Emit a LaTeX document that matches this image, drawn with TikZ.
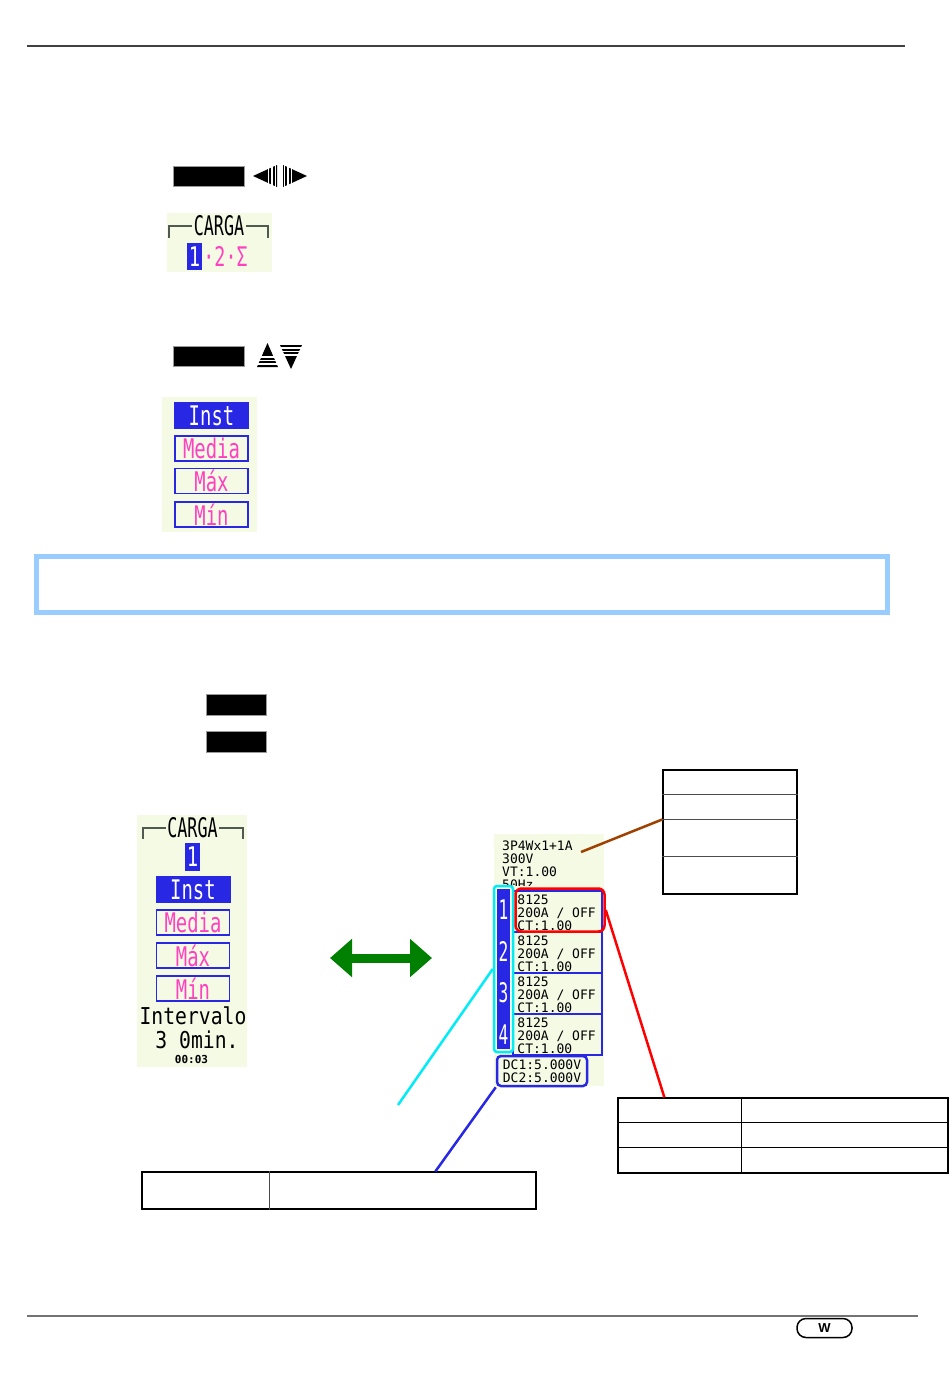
\documentclass[tikz,border=0pt]{standalone}
\usepackage{fontspec}
\usepackage{tikz}
\usetikzlibrary{positioning,arrows.meta,calc}
\setsansfont{Liberation Sans}
\newfontfamily\lcd{DejaVu Sans Mono}
\definecolor{lcdbg}{RGB}{244,250,228}
\definecolor{lcdblu}{RGB}{40,40,228}
\definecolor{lcdmag}{RGB}{255,64,192}
\definecolor{ban}{RGB}{153,204,255}
\definecolor{brn}{RGB}{160,64,0}
\definecolor{grn}{RGB}{0,128,0}
\definecolor{cyn}{RGB}{0,236,246}
\definecolor{brkc}{RGB}{80,90,80}
\newcommand{\lcdbig}[2][0.7]{\scalebox{#1}[1]{\lcd\fontsize{27}{27}\selectfont #2}}

\begin{document}
\begin{tikzpicture}[x=1pt,y=-1pt,
  kbd/.style={fill=black,draw=gray!80,line width=1pt,minimum width=71pt,minimum height=20pt,inner sep=0pt},
  pnl/.style={fill=lcdbg,inner sep=0pt},
  selon/.style={fill=lcdblu,text=white,minimum width=75pt,minimum height=27pt,inner sep=0pt},
  seloff/.style={draw=lcdblu,line width=1.6pt,fill=lcdbg,text=lcdmag,minimum width=73pt,minimum height=25pt,inner sep=0pt},
  brk/.style={draw=brkc,line width=2pt},
  sm/.style={font=\lcd\fontsize{13}{13}\selectfont,inner sep=0pt,anchor=north west,align=left},
  ch/.style={draw=lcdblu,line width=1.5pt,fill=lcdbg,minimum width=89pt,minimum height=41pt,inner sep=0pt},
  tbl/.style={draw,line width=1.2pt,inner sep=0pt},
  con/.style={line width=2.5pt}]
\useasboundingbox (0,0) rectangle (950,1377);
% page rules
\draw[black!75,line width=1.2pt] (27,46) -- (905,46);
\draw[black!55,line width=1.2pt] (27,1316) -- (918,1316);
\node[draw,line width=1.5pt,rounded corners=9pt,minimum width=55pt,minimum height=19pt,inner sep=0pt,font=\sffamily\bfseries\fontsize{13}{13}\selectfont] (pg) at (824.5,1328) {W};

% keys and arrow icons
\node[kbd] (k1) at (208.5,176) {};
\fill (253,176) -- (277,165) -- (277,187) -- cycle;
\fill (283,165) -- (283,187) -- (307,176) -- cycle;
\foreach \i in {268.5,272,275.5,284.5,288,291.5} \draw[white,line width=1.1pt] (\i,162) -- (\i,190);
\node[kbd] (k2) at (208.5,356) {};
\fill (267.5,343) -- (278,367) -- (257,367) -- cycle;
\fill (280,345) -- (302,345) -- (291,369) -- cycle;
\foreach \i in {357,360.5,364} \draw[white,line width=1.1pt] (254,\i) -- (280.5,\i);
\foreach \i in {348,351.5,355} \draw[white,line width=1.1pt] (279,\i) -- (304,\i);

% load selector
\node[pnl,minimum width=105pt,minimum height=59pt] (pA) at (219.5,242.5) {};
\node[inner sep=1.5pt] (cgA) at (219,226) {\lcdbig[0.62]{CARGA}};
\draw[brk] (cgA.west) -| (169,238);
\draw[brk] (cgA.east) -| (268,238);
\node[selon,minimum width=15pt,minimum height=27pt] (n1) at (194.5,256.5) {\lcdbig{1}};
\node[text=lcdmag,inner sep=0pt,right=1pt of n1] (n2) {\lcdbig[0.68]{·2·Σ}};

% value menu
\node[pnl,minimum width=95pt,minimum height=135pt] (pB) at (209.5,464.5) {};
\node[selon] (mi) at (211.5,415.5) {\lcdbig{Inst}};
\node[seloff] (mm) at (211.5,448.5) {\lcdbig{Media}};
\node[seloff] (mx) at (211.5,481) {\lcdbig{Máx}};
\node[seloff] (mn) at (211.5,514.5) {\lcdbig{Mín}};

% note banner
\node[draw=ban,line width=5pt,minimum width=851pt,minimum height=56pt,inner sep=0pt] (bnr) at (462,584.5) {};

\node[kbd,minimum width=60pt,minimum height=21pt] (k3) at (236.5,705) {};
\node[kbd,minimum width=60pt,minimum height=21pt] (k4) at (236.5,741.5) {};

% left screen
\node[pnl,minimum width=110pt,minimum height=252pt] (pC) at (192,941) {};
\node[inner sep=1.5pt] (cgB) at (192.5,828) {\lcdbig[0.62]{CARGA}};
\draw[brk] (cgB.west) -| (143,839);
\draw[brk] (cgB.east) -| (243,839);
\node[selon,minimum width=15pt,minimum height=28pt] (l1) at (192.5,857) {\lcdbig{1}};
\node[selon] (li) at (193,889.5) {\lcdbig{Inst}};
\node[seloff] (lm) at (193,922.5) {\lcdbig{Media}};
\node[seloff] (lx) at (193,955.5) {\lcdbig{Máx}};
\node[seloff] (ln) at (193,988.5) {\lcdbig{Mín}};
\node[inner sep=0pt] (iv) at (193,1015.5) {\scalebox{0.73}[0.86]{\lcd\fontsize{27}{27}\selectfont Intervalo}};
\node[inner sep=0pt] (im) at (197,1040) {\scalebox{0.73}[0.86]{\lcd\fontsize{27}{27}\selectfont 3 0min.}};
\node[inner sep=0pt,font=\lcd\bfseries\fontsize{11}{11}\selectfont] (tm) at (191.5,1059) {00:03};

\coordinate (gl) at (330,958);
\coordinate (gr) at (432,958);
\draw[grn,line width=9pt,{Triangle[length=22pt,width=37pt]}-{Triangle[length=22pt,width=37pt]}] (gl) -- (gr);

% right screen
\node[pnl,minimum width=110pt,minimum height=252pt] (pD) at (549,960) {};
\begin{scope}
  \clip (494,834) rectangle (604,885.5);
  \node[sm] (hd) at (502,840.5) {3P4Wx1+1A\\300V\\VT:1.00\\50Hz};
\end{scope}
\foreach \i in {1,...,4} {
  \node[ch] (c\i) at (557.5,{911.5+41*(\i-1)}) {};
  \node[sm] (t\i) at ($(c\i.north west)+(5,4.5)$) {8125\\200A / OFF\\CT:1.00};
}
\node[fill=lcdblu,minimum width=13pt,minimum height=160pt,inner sep=0pt] (bar) at (503.5,969) {};
\foreach \i in {1,...,4}
  \node[text=white,inner sep=0pt] (b\i) at (503.5,{910+41.5*(\i-1)}) {\lcdbig[0.6]{\i}};
\node[draw=cyn,line width=2.5pt,rounded corners=3pt,minimum width=19pt,minimum height=166pt,inner sep=0pt] (cy) at (503.5,969) {};
\node[draw=red,line width=2.5pt,rounded corners=6pt,minimum width=89pt,minimum height=43pt,inner sep=0pt] (rd) at (560,910) {};
\node[draw=lcdblu,line width=2.5pt,rounded corners=4pt,minimum width=90pt,minimum height=30pt,inner sep=0pt] (dc) at (542,1071) {};
\node[sm,anchor=center] (dct) at (dc) {DC1:5.000V\\DC2:5.000V};

% tables
\node[tbl,minimum width=134pt,minimum height=124pt] (tA) at (730,832) {};
\foreach \d in {25,50,87} \draw[line width=1.2pt,black!70] ($(tA.north west)+(0,\d)$) -- ($(tA.north east)+(0,\d)$);
\node[tbl,minimum width=330pt,minimum height=75pt] (tB) at (783,1135.5) {};
\foreach \d in {25,50} \draw[line width=1.2pt] ($(tB.north west)+(0,\d)$) -- ($(tB.north east)+(0,\d)$);
\draw[line width=1.2pt] ($(tB.north west)+(124,0)$) -- ($(tB.south west)+(124,0)$);
\node[tbl,minimum width=394pt,minimum height=37pt] (tC) at (339,1190.5) {};
\draw[line width=1.2pt,black!70] ($(tC.north west)+(128,0)$) -- ($(tC.south west)+(128,0)$);

% callout lines
\coordinate (bs) at (581,852);
\coordinate (hA) at ($(tA.north west)+(0,50)$);
\coordinate (hB) at ($(tB.north west)+(47,0)$);
\coordinate (hC) at ($(tC.north west)+(294,0)$);
\coordinate (cyend) at (398,1105);
\draw[con,brn] (bs) -- (hA);
\draw[con,red] (rd.east) -- (hB);
\draw[con,cyn] (cy.west) -- (cyend);
\draw[con,lcdblu] (dc.south west) -- (hC);
\end{tikzpicture}
\end{document}
